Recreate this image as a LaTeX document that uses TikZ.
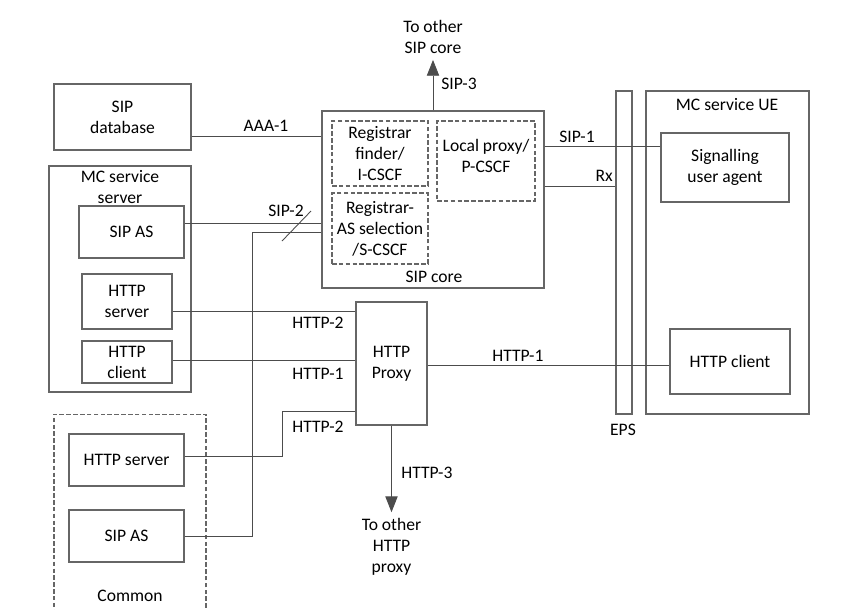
\documentclass[tikz,border=0pt]{standalone}
\usepackage{fontspec}
\setmainfont{Carlito}
\usetikzlibrary{arrows.meta}

\begin{document}
\begin{tikzpicture}[x=0.02cm,y=-0.02cm,font=\fontsize{10}{12}\selectfont,
    box/.style={draw=black!60,line width=0.7pt,align=center,inner sep=1pt},
    dbox/.style={box,line width=0.6pt,dash pattern=on 2.6pt off 1.3pt},
    wire/.style={draw=black!70,line width=0.5pt},
    lbl/.style={inner sep=0pt},
    txt/.style={align=center,inner sep=0.333em},
    arr/.style={wire,-{Triangle[length=9pt,width=7pt]}}]
    \useasboundingbox (0,0) rectangle (857,609);
    \node[box,minimum width=2.74cm,minimum height=1.32cm] (sipdb) at (122.5,117) {SIP\\database};
    \node[box,minimum width=4.44cm,minimum height=3.54cm] (sipcore) at (433,199.5) {};
    \node[lbl] (sipcoretxt) at (434,277) {SIP core};
    \node[dbox,minimum width=1.92cm,minimum height=1.30cm] (icscf) at (380,153.5) {Registrar\\finder/\\I-CSCF};
    \node[dbox,minimum width=1.92cm,minimum height=1.42cm] (scscf) at (380,228.5) {Registrar-\\AS selection\\/S-CSCF};
    \node[dbox,minimum width=1.96cm,minimum height=1.60cm] (pcscf) at (486,161) {};
    \node[txt] (pcscftxt) at (486,156) {Local proxy/\\P-CSCF};
    \node[box,minimum width=2.84cm,minimum height=4.52cm] (mcserver) at (120,279) {};
    \node[txt] (mcservertxt) at (120,187) {MC service\\server};
    \node[box,minimum width=2.10cm,minimum height=1.04cm] (sipas1) at (131.5,232) {SIP AS};
    \node[box,minimum width=1.80cm,minimum height=1.10cm] (httpsrv1) at (127,301.5) {HTTP\\server};
    \node[box,minimum width=1.80cm,minimum height=0.84cm] (httpcli1) at (127,362) {HTTP\\client};
    \node[box,minimum width=1.42cm,minimum height=2.46cm] (httpproxy) at (391.5,363.5) {HTTP\\Proxy};
    \node[dbox,minimum width=3.04cm,minimum height=4.40cm] (common) at (130,524) {};
    \node[lbl] (commontxt) at (130,596) {Common};
    \node[box,minimum width=2.30cm,minimum height=1.04cm] (httpsrv2) at (126.5,460) {HTTP server};
    \node[box,minimum width=2.30cm,minimum height=1.04cm] (sipas2) at (126.5,536) {SIP AS};
    \node[box,minimum width=0.32cm,minimum height=6.46cm] (eps) at (624,252.5) {};
    \node[lbl] (epstxt) at (623,430) {EPS};
    \node[box,minimum width=3.26cm,minimum height=6.46cm] (mcue) at (727.5,252.5) {};
    \node[lbl] (mcuetxt) at (727,105) {MC service UE};
    \node[box,minimum width=2.56cm,minimum height=1.38cm] (sigua) at (725,167.5) {Signalling\\user agent};
    \node[box,minimum width=2.40cm,minimum height=1.30cm] (httpcli2) at (730,361.5) {HTTP client};
    \node[txt] (sipother) at (433,37) {To other\\SIP core};
    \node[txt] (httpother) at (391.5,547) {To other\\HTTP\\proxy};

    \draw[wire] (sipdb.east |- 0,136) -- (sipcore.west |- 0,136);
    \draw[wire] (sipas1.east |- 0,223) -- (sipcore.west |- 0,223);
    \draw[wire] (sipas2.east) -- (252,536) -- (252,232) -- (sipcore.west |- 0,232);
    \draw[wire] (282,241) -- (311,211);
    \draw[wire] (httpsrv1.east |- 0,311) -- (httpproxy.west |- 0,311);
    \draw[wire] (httpcli1.east |- 0,360) -- (httpproxy.west |- 0,360);
    \draw[wire] (httpsrv2.east |- 0,456) -- (282,456) -- (282,411) -- (httpproxy.west |- 0,411);
    \draw[wire] (httpproxy.east |- 0,365) -- (httpcli2.west |- 0,365);
    \draw[wire] (sipcore.east |- 0,146) -- (sigua.west |- 0,146);
    \draw[wire] (sipcore.east |- 0,186) -- (eps.west |- 0,186);
    \draw[arr] (sipcore.north) -- (sipother.south);
    \draw[arr] (httpproxy.south) -- (httpother.north);

    \node[lbl] (aaa1) at (266,126) {AAA-1};
    \node[lbl] (sip2) at (286,211) {SIP-2};
    \node[lbl] (http2a) at (318,323) {HTTP-2};
    \node[lbl] (http1a) at (318,374) {HTTP-1};
    \node[lbl] (http2b) at (318,427) {HTTP-2};
    \node[lbl,anchor=west] (http3) at (401,473) {HTTP-3};
    \node[lbl,anchor=west] (sip3) at (441,84) {SIP-3};
    \node[lbl,anchor=west] (sip1) at (559,137) {SIP-1};
    \node[lbl,anchor=east] (rx) at (613,176) {Rx};
    \node[lbl,anchor=west] (http1b) at (492,356) {HTTP-1};
\end{tikzpicture}
\end{document}
